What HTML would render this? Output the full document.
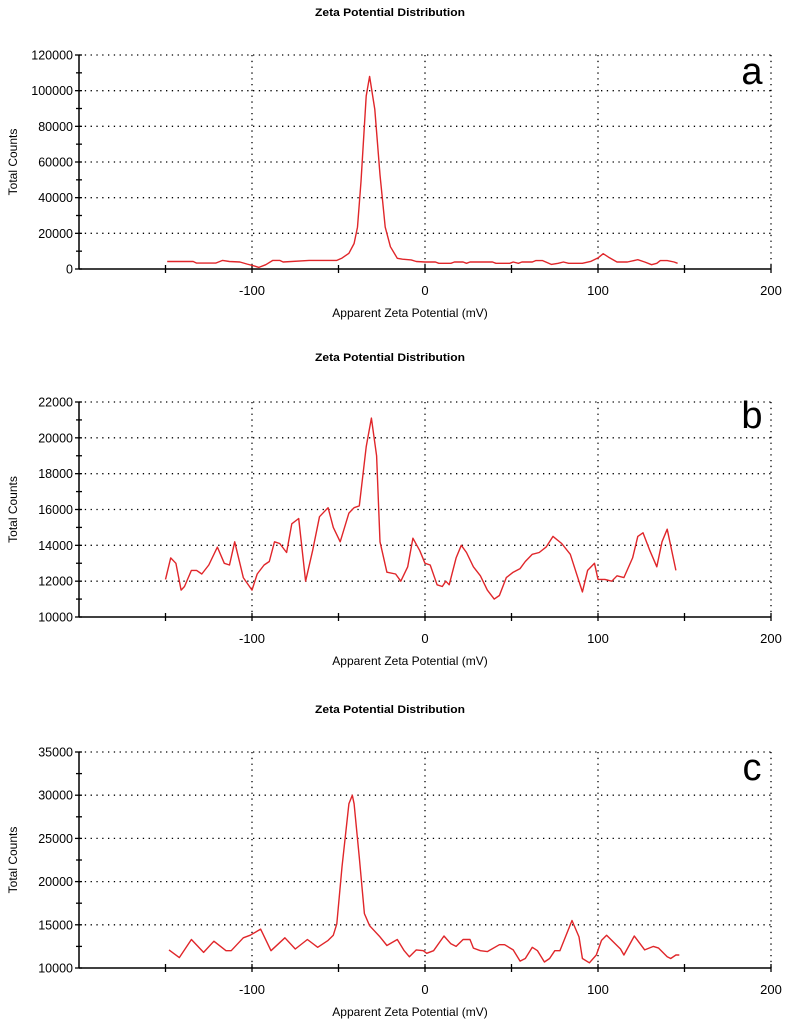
<!DOCTYPE html>
<html><head><meta charset="utf-8">
<style>
html,body{margin:0;padding:0;background:#fff;}
svg{display:block;font-family:"Liberation Sans",Arial,sans-serif;}
</style></head>
<body>
<svg id="chart" width="789" height="1027" viewBox="0 0 789 1027" xmlns="http://www.w3.org/2000/svg"></svg>
<script>
// Panel a data
const aX = [-149,-134,-132,-121,-117,-113,-107,-103,-99,-96,-92,-88,-84,-82,-67,-51,-48,-44,-41,-39,-37,-34,-32,-29,-26,-23,-20,-16,-13,-8,-5,0,6,8,15,17,22,24,26,39,41,49,51,54,56,62,64,68,73,77,80,83,91,96,100,103,106,111,117,123,127,131,134,136,140,144,146];
const aY = [4200,4200,3300,3300,4800,4200,3900,2800,1800,900,2400,4800,4800,3900,4800,4800,6100,8800,14300,23500,49000,97000,108000,89500,52800,23500,12500,6000,5500,5100,4200,3900,3900,3200,3200,3900,3900,3200,3900,3900,3200,3200,3900,3200,3900,3900,4700,4700,2600,3200,3900,3200,3200,4300,6200,8600,6700,3900,3900,5200,3900,2400,3200,4700,4700,3900,3200];
// Panel b data
const bX = [-150,-147,-144,-141,-139,-135,-132,-129,-125,-120,-116,-113,-110,-105,-100,-97,-93,-90,-87,-84,-80,-77,-73,-69,-65,-61,-56,-53,-49,-44,-41,-38,-34,-31,-28,-26,-22,-17,-14,-10,-7,-3,0,3,7,10,12,14,18,21,24,28,32,36,40,43,47,51,55,58,62,66,70,74,79,84,88,91,94,98,100,104,108,111,115,120,123,126,130,134,137,140,145];
const bY = [12100,13300,13000,11500,11700,12600,12600,12400,12900,13900,13000,12900,14200,12200,11500,12400,12900,13100,14200,14100,13600,15200,15500,12000,13700,15600,16100,15000,14200,15800,16100,16200,19500,21100,19000,14200,12500,12400,12000,12800,14400,13700,13000,12900,11800,11700,12000,11800,13300,14000,13600,12800,12300,11500,11000,11200,12200,12500,12700,13100,13500,13600,13900,14500,14100,13500,12300,11400,12600,13000,12100,12100,12000,12300,12200,13300,14500,14700,13700,12800,14200,14900,12600];
// Panel c data
const cX = [-148,-142,-135,-128,-122,-115,-112,-105,-101,-95,-89,-81,-75,-68,-62,-56,-53,-51,-48,-44,-42,-41,-38,-35,-32,-26,-22,-16,-12,-9,-5,-1,1,5,11,15,18,22,26,28,32,36,43,46,51,55,58,62,65,69,72,75,78,85,89,91,95,99,102,105,113,115,121,127,132,135,140,142,145,147];
const cY = [12100,11200,13300,11800,13100,12000,12000,13500,13800,14500,12000,13500,12200,13300,12400,13200,13800,15100,21700,29000,30000,29000,22800,16300,14900,13600,12600,13300,12000,11300,12100,12000,11700,12000,13700,12800,12500,13300,13300,12300,12000,11900,12700,12700,12100,10800,11100,12400,12000,10700,11100,12000,12000,15500,13600,11100,10600,11500,13200,13800,12200,11500,13700,12100,12500,12300,11300,11100,11500,11500];
// Tick labels
const xTickLabels = [-100,0,100,200];
const xMinorTicks = [-150,-100,-50,0,50,100,150,200];
const aYTicks = [0,20000,40000,60000,80000,100000,120000];
const bYTicks = [10000,12000,14000,16000,18000,20000,22000];
const cYTicks = [10000,15000,20000,25000,30000,35000];

const NS = "http://www.w3.org/2000/svg";
const svg = document.getElementById('chart');
function mk(tag, attrs, parent){
  const e = document.createElementNS(NS, tag);
  for (const k in attrs) e.setAttribute(k, attrs[k]);
  (parent||svg).appendChild(e);
  return e;
}
const X0 = 79, X1 = 771; // -200 .. 200
function xs(v){ return X0 + (v + 200) / 400 * (X1 - X0); }

function panel(id, top, bottom, yTicks, xs_, ys_, letter, titleY, letterY){
  const g = mk('g', {});
  
  
  const ymin = yTicks[0], ymax = yTicks[yTicks.length-1];
  const ysc = v => bottom - (v - ymin) / (ymax - ymin) * (bottom - top);
  const t = mk('text', {x: 390, y: titleY, 'font-size': 11, 'text-anchor': 'middle', fill: '#000', 'font-weight': 'bold', 'textLength': 150, 'lengthAdjust': 'spacingAndGlyphs'}, g);
  t.textContent = 'Zeta Potential Distribution';
  
  
  yTicks.forEach((v, i) => {
    if (i === 0) return;
    const l = mk('line', {x1: X0, x2: X1, y1: ysc(v), y2: ysc(v), stroke: '#000', 'stroke-width': 1.3, 'stroke-dasharray': '1.3 4.5'}, g);
    
    
  });
  xTickLabels.forEach(v => {
    const l = mk('line', {x1: xs(v), x2: xs(v), y1: top, y2: bottom, stroke: '#000', 'stroke-width': 1.3, 'stroke-dasharray': '1.3 4.5'}, g);
    
    
  });
  const ya = mk('line', {x1: X0, x2: X0, y1: top, y2: bottom, stroke: '#000', 'stroke-width': 1.5}, g);
  
  
  const xa = mk('line', {x1: X0, x2: X1, y1: bottom, y2: bottom, stroke: '#000', 'stroke-width': 1.5}, g);
  
  
  yTicks.forEach((v, i) => {
    mk('line', {x1: X0-4, x2: X0+3, y1: ysc(v), y2: ysc(v), stroke: '#000', 'stroke-width': 1.3}, g);
    if (i > 0) {
      const mid = (v + yTicks[i-1]) / 2;
      mk('line', {x1: X0-3, x2: X0+3, y1: ysc(mid), y2: ysc(mid), stroke: '#000', 'stroke-width': 1.3}, g);
    }
    const tx = mk('text', {x: X0-6, y: ysc(v)+4.5, 'font-size': 12.5, 'text-anchor': 'end', fill: '#000'}, g);
    tx.textContent = v;
    
    
  });
  xMinorTicks.forEach(v => {
    mk('line', {x1: xs(v), x2: xs(v), y1: bottom-4, y2: bottom+4, stroke: '#000', 'stroke-width': 1.3}, g);
  });
  xTickLabels.forEach(v => {
    const tx = mk('text', {x: xs(v), y: bottom+26, 'font-size': 13, 'text-anchor': 'middle', fill: '#000'}, g);
    tx.textContent = v;
    
    
  });
  const xt = mk('text', {x: 410, y: bottom+48, 'font-size': 12, 'text-anchor': 'middle', fill: '#000'}, g);
  xt.textContent = 'Apparent Zeta Potential (mV)';
  
  
  const cy = (top + bottom) / 2;
  const yt = mk('text', {x: 0, y: 0, 'font-size': 12, 'text-anchor': 'middle', fill: '#000', transform: 'translate(17,' + cy + ') rotate(-90)'}, g);
  yt.textContent = 'Total Counts';
  
  
  const pts = xs_.map((v, i) => xs(v).toFixed(1) + ',' + ysc(ys_[i]).toFixed(1)).join(' ');
  const pl = mk('polyline', {points: pts, fill: 'none', stroke: '#e0262a', 'stroke-width': 1.4, 'stroke-linejoin': 'round'}, g);
  
  
  const lt = mk('text', {x: 752, y: letterY, 'font-size': 38, 'text-anchor': 'middle', fill: '#000'}, g);
  lt.textContent = letter;
  
  
}
panel('a', 55, 269, aYTicks, aX, aY, 'a', 16, 84);
panel('b', 402, 617, bYTicks, bX, bY, 'b', 361, 428);
panel('c', 752, 968, cYTicks, cX, cY, 'c', 713, 780);
</script>
</body></html>
